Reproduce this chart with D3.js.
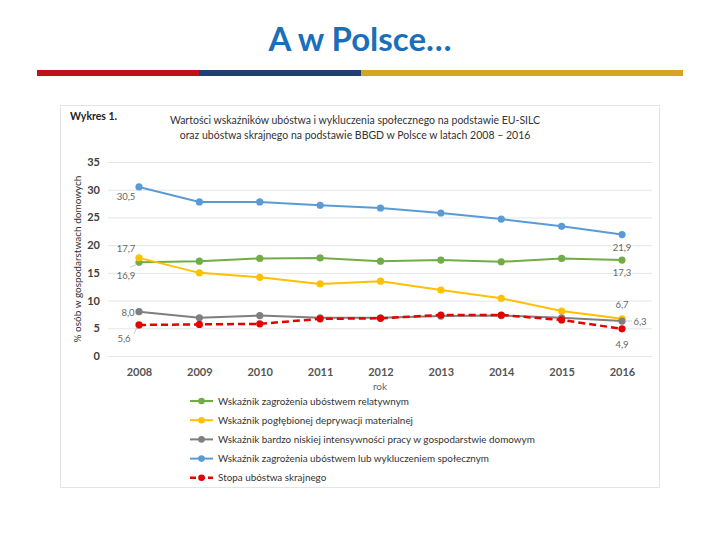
<!DOCTYPE html>
<html><head><meta charset="utf-8">
<script src="https://cdn.jsdelivr.net/npm/d3@7"></script>
<style>body{margin:0;background:#fff}svg{display:block}</style>
</head><body>
<script>
const years = [2008, 2009, 2010, 2011, 2012, 2013, 2014, 2015, 2016];
const relPoverty = [16.9, 17.1, 17.6, 17.7, 17.1, 17.3, 17.0, 17.6, 17.3];
const deprivation = [17.7, 15.0, 14.2, 13.0, 13.5, 11.9, 10.4, 8.1, 6.7];
const workIntensity = [8.0, 6.9, 7.3, 6.9, 6.9, 7.2, 7.3, 6.9, 6.3];
const arope = [30.5, 27.8, 27.8, 27.2, 26.7, 25.8, 24.7, 23.4, 21.9];
const extreme = [5.6, 5.7, 5.8, 6.7, 6.8, 7.4, 7.4, 6.5, 4.9];
const yTicks = [0, 5, 10, 15, 20, 25, 30, 35];
const seriesNames = [
  "Wskaźnik zagrożenia ubóstwem relatywnym",
  "Wskaźnik pogłębionej deprywacji materialnej",
  "Wskaźnik bardzo niskiej intensywności pracy w gospodarstwie domowym",
  "Wskaźnik zagrożenia ubóstwem lub wykluczeniem społecznym",
  "Stopa ubóstwa skrajnego"
];
const seriesColors = ["#70AD47", "#FFC000", "#7F7F7F", "#5B9BD5", "#E60000"];
const seriesData = [relPoverty, deprivation, workIntensity, arope, extreme];

const W = 720, H = 540;
const svg = d3.select("body").append("svg").attr("width", W).attr("height", H);
const font = "Lato, 'Open Sans', sans-serif";

// Slide title
svg.append("text").attr("x", 360).attr("y", 51).attr("text-anchor", "middle")
  .attr("font-family", font).attr("font-weight", "bold").attr("font-size", 33)
  .attr("fill", "#1B6FBA").text("A w Polsce…");
// stripes
svg.append("rect").attr("x", 37).attr("y", 70).attr("width", 162).attr("height", 6).attr("fill", "#C0101A");
svg.append("rect").attr("x", 199).attr("y", 70).attr("width", 162).attr("height", 6).attr("fill", "#1F3F73");
svg.append("rect").attr("x", 361).attr("y", 70).attr("width", 322).attr("height", 6).attr("fill", "#D4A422");

// chart frame
svg.append("rect").attr("x", 60.5).attr("y", 105.5).attr("width", 599).attr("height", 382)
  .attr("fill", "#fff").attr("stroke", "#E4E4E4").attr("stroke-width", 1);

svg.append("text").attr("x", 70).attr("y", 120).attr("font-family", font).attr("font-weight", "bold")
  .attr("font-size", 10.5).attr("fill", "#222").text("Wykres 1.");
svg.append("text").attr("x", 355).attr("y", 124).attr("text-anchor", "middle").attr("font-family", font)
  .attr("font-size", 10.5).attr("fill", "#333")
  .text("Wartości wskaźników ubóstwa i wykluczenia społecznego na podstawie EU-SILC");
svg.append("text").attr("x", 355).attr("y", 139).attr("text-anchor", "middle").attr("font-family", font)
  .attr("font-size", 10.5).attr("fill", "#333")
  .text("oraz ubóstwa skrajnego na podstawie BBGD w Polsce w latach 2008 – 2016");

const x = d3.scalePoint().domain(years).range([139, 622]);
const y = d3.scaleLinear().domain([0, 35]).range([356, 162]);

// gridlines
const yAxis = d3.axisLeft(y).tickValues(yTicks).tickSize(-(652 - 108)).tickPadding(8);
const gy = svg.append("g").attr("transform", "translate(108,0)").call(yAxis);
gy.select(".domain").remove();
gy.selectAll(".tick line").attr("stroke", "#E6E6E6");
gy.selectAll(".tick text").attr("font-family", font).attr("font-size", 11).attr("font-weight", "bold")
  .attr("fill", "#404040").attr("x", -8);

const xAxis = d3.axisBottom(x).tickSize(0).tickPadding(0);
const gx = svg.append("g").attr("transform", "translate(0,376)").call(xAxis);
gx.select(".domain").remove();
gx.selectAll(".tick text").attr("font-family", font).attr("font-size", 11).attr("font-weight", "bold")
  .attr("fill", "#555").attr("dy", 0);

svg.append("text").attr("x", 380).attr("y", 390).attr("text-anchor", "middle").attr("font-family", font)
  .attr("font-size", 10).attr("fill", "#666").text("rok");
svg.append("text").attr("transform", "translate(81,259) rotate(-90)").attr("text-anchor", "middle")
  .attr("font-family", font).attr("font-size", 10).attr("fill", "#333").text("% osób w gospodarstwach domowych");

// lines
const line = d3.line().x((d, i) => x(years[i])).y(d => y(d));
seriesData.forEach((s, k) => {
  const g = svg.append("g");
  g.append("path").datum(s).attr("d", line).attr("fill", "none")
    .attr("stroke", seriesColors[k]).attr("stroke-width", k === 4 ? 2.5 : 2)
    .attr("stroke-dasharray", k === 4 ? "7,4" : null);
  g.selectAll("circle").data(s).join("circle")
    .attr("cx", (d, i) => x(years[i])).attr("cy", d => y(d)).attr("r", 3.6)
    .attr("fill", seriesColors[k]);
});

// data labels
const fmt = v => d3.format(".1f")(v).replace(".", ",");
const lab = (xv, yv, dx, dy, anchor) => svg.append("text")
  .attr("x", x(xv) + dx).attr("y", y(yv) + dy).attr("text-anchor", anchor)
  .attr("font-family", font).attr("font-size", 9.5).attr("fill", "#666");
lab(2008, arope[0], -13, 13, "middle").text(fmt(arope[0]));
lab(2008, deprivation[0], -13, -6, "middle").text(fmt(deprivation[0]));
lab(2008, relPoverty[0], -13, 17, "middle").text(fmt(relPoverty[0]));
lab(2008, workIntensity[0], -11, 4, "middle").text(fmt(workIntensity[0]));
lab(2008, extreme[0], -15, 17, "middle").text(fmt(extreme[0]));
lab(2016, arope[8], 0, 16, "middle").text(fmt(arope[8]));
lab(2016, relPoverty[8], 0, 16, "middle").text(fmt(relPoverty[8]));
lab(2016, deprivation[8], 0, -11, "middle").text(fmt(deprivation[8]));
lab(2016, workIntensity[8], 18, 4, "middle").text(fmt(workIntensity[8]));
lab(2016, extreme[8], 0, 19, "middle").text(fmt(extreme[8]));
// leader lines
const lead = (x1, y1, x2, y2) => svg.append("line").attr("x1", x1).attr("y1", y1).attr("x2", x2).attr("y2", y2)
  .attr("stroke", "#BFBFBF").attr("stroke-width", 0.8);
lead(x(2008) - 2, y(relPoverty[0]) + 2, x(2008) - 9, y(relPoverty[0]) + 5);
lead(x(2008) - 2, y(extreme[0]) + 2, x(2008) - 5, y(extreme[0]) + 9);
lead(x(2016) + 4, y(workIntensity[8]), x(2016) + 10, y(workIntensity[8]));

// legend
const lg = svg.append("g");
seriesNames.forEach((n, k) => {
  const yy = 401 + k * 19.2;
  lg.append("line").attr("x1", 190).attr("x2", 213).attr("y1", yy).attr("y2", yy)
    .attr("stroke", seriesColors[k]).attr("stroke-width", k === 4 ? 2.5 : 2)
    .attr("stroke-dasharray", k === 4 ? "6,3" : null);
  lg.append("circle").attr("cx", 201.5).attr("cy", yy).attr("r", 3.3).attr("fill", seriesColors[k]);
  lg.append("text").attr("x", 218).attr("y", yy + 3.5).attr("font-family", font).attr("font-size", 9.9)
    .attr("fill", "#333").text(n);
});
</script>
</body></html>
